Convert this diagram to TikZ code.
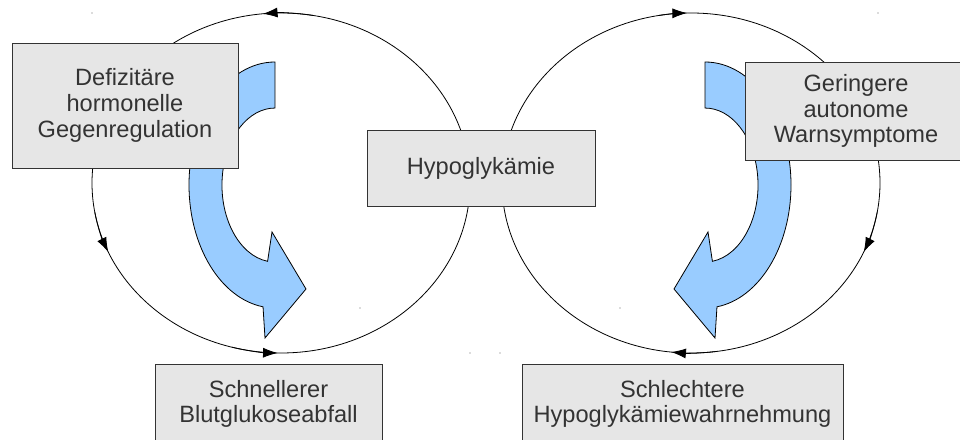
\documentclass[tikz,border=0pt]{standalone}
\usepackage{fontspec}
\setmainfont{Liberation Sans}
\usetikzlibrary{arrows.meta}
\definecolor{boxgray}{HTML}{E6E6E6}
\definecolor{flowblue}{HTML}{99CCFF}
\definecolor{textgray}{HTML}{333333}

\begin{document}
\begin{tikzpicture}[x=0.75pt,y=0.75pt,
  box/.style={draw=textgray,fill=boxgray,line width=0.6pt,align=center,text=textgray,
    font=\fontsize{17.7}{19.3}\selectfont,inner sep=0pt},
  ring/.style={line width=0.6pt},
  tip/.style={-{Latex[length=11pt,width=7.5pt]},line width=0.6pt},
  flow/.style={draw=black,fill=flowblue,line width=0.6pt,line join=miter}]
\useasboundingbox (0,0) rectangle (960,439);

% the two cycles
\draw[ring] (281,256) ellipse [x radius=189, y radius=170];
\draw[ring] (691,256) ellipse [x radius=189, y radius=170];
\draw[tip] (281,256) ++(80:189 and 170) arc[start angle=80, end angle=95.5, x radius=189, y radius=170];
\draw[tip] (281,256) ++(190:189 and 170) arc[start angle=190, end angle=204, x radius=189, y radius=170];
\draw[tip] (281,256) ++(255:189 and 170) arc[start angle=255, end angle=269, x radius=189, y radius=170];
\draw[tip] (691,256) ++(100:189 and 170) arc[start angle=100, end angle=91.2, x radius=189, y radius=170];
\draw[tip] (691,256) ++(350:189 and 170) arc[start angle=350, end angle=336, x radius=189, y radius=170];
\draw[tip] (691,256) ++(278:189 and 170) arc[start angle=278, end angle=264, x radius=189, y radius=170];

% blue turning arrows
\draw[flow] (275,377) arc[start angle=90, end angle=262, x radius=86, y radius=123]
  -- (265,101) -- (306,150) -- (272,207) -- (267.6,177.7)
  arc[start angle=262, end angle=90, x radius=53, y radius=77] -- cycle;
\draw[flow] (705,377) arc[start angle=90, end angle=-82, x radius=86, y radius=123]
  -- (715,101) -- (674,150) -- (708,207) -- (712.4,177.7)
  arc[start angle=-82, end angle=90, x radius=53, y radius=77] -- cycle;

% boxes
\node[box,minimum width=169.5pt,minimum height=93.75pt] (gegen) at (125,333.5)
  {Defizitäre\\hormonelle\\Gegenregulation};
\node[box,minimum width=171pt,minimum height=57pt] (hypo) at (481,271) {Hypoglykämie};
\node[box,minimum width=166.5pt,minimum height=73.5pt] (warn) at (856,328)
  {Geringere\\autonome\\Warnsymptome};
\node[box,minimum width=170.25pt,minimum height=60pt] (abfall) at (268.5,35)
  {Schnellerer\\Blutglukoseabfall};
\node[box,minimum width=240.75pt,minimum height=60pt] (wahrn) at (682.5,35)
  {Schlechtere\\Hypoglykämiewahrnehmung};

% stray dots
\foreach \p in {(92,426),(878,426),(360,131),(620,131),(470,86),(500,86)}
  \fill[black!60] \p circle (0.6);
\end{tikzpicture}
\end{document}
